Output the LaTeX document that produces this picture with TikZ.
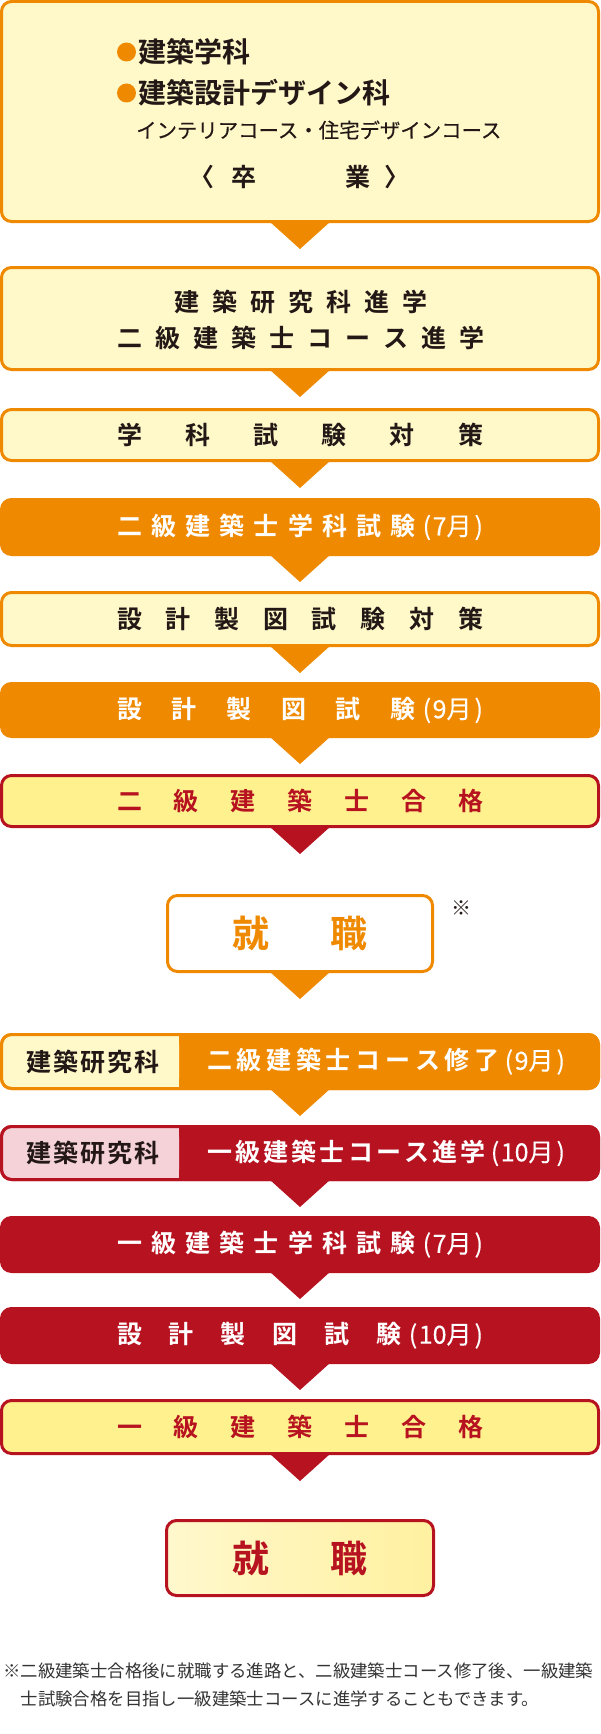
\documentclass[tikz,border=0pt]{standalone}
\usepackage{fontspec}
\setmainfont{Noto Sans CJK JP}[BoldFont={* Bold}]
\newfontfamily\jpm{Noto Sans CJK JP}[FakeBold=0.3]
\usetikzlibrary{calc}
\definecolor{orC}{RGB}{239,138,0}
\definecolor{ltY}{RGB}{255,249,202}
\definecolor{rdC}{RGB}{183,18,32}
\definecolor{psY}{RGB}{255,242,142}
\definecolor{pkC}{RGB}{244,210,216}
\definecolor{dkC}{RGB}{35,24,21}
\definecolor{ftC}{RGB}{51,51,51}
\definecolor{jA}{RGB}{255,248,205}
\definecolor{jB}{RGB}{255,241,160}
\newcommand{\downtri}[2]{\fill[#2] ($(#1.south)+(-30.5,0)$) -- ($(#1.south)+(30.5,0)$) -- ($(#1.south)+(0,27.5)$) -- cycle;}
\newcommand{\hf}{\hfill{}}
\newcommand{\mon}[1]{{\mdseries\jpm(\kern1.5pt#1\kern3pt)}}
\tikzset{
  bx/.style={rectangle, rounded corners=10pt, line width=3pt, minimum width=597pt, inner sep=0pt, outer sep=0pt},
  lt/.style={bx, draw=orC, fill=ltY},
  of/.style={bx, draw=orC, fill=orC},
  rf/.style={bx, draw=rdC, fill=rdC},
  pass/.style={bx, draw=rdC, fill=psY},
  txt/.style={inner sep=0pt, font={\bfseries\fontsize{25}{25}\selectfont}},
  big/.style={inner sep=0pt, font={\bfseries\fontsize{37}{37}\selectfont}},
  lead/.style={anchor=west, inner sep=0pt, text=dkC, font={\bfseries\fontsize{28}{28}\selectfont}},
  note/.style={anchor=west, inner sep=0pt, text=ftC, font={\fontsize{17.4}{17.4}\selectfont}},
}
\begin{document}
\begin{tikzpicture}[x=1pt,y=-1pt]
\useasboundingbox (0,0) rectangle (600,1734);
% boxes
\node[lt, minimum height=220pt] (b1) at (300,111.5) {};
\node[lt, minimum height=102pt] (b2) at (300,318.5) {};
\node[lt, minimum height=51pt] (b3) at (300,435) {};
\node[of, minimum height=55pt] (b4) at (300,527) {};
\node[lt, minimum height=53pt] (b5) at (300,619) {};
\node[of, minimum height=53pt] (b6) at (300,710) {};
\node[pass, minimum height=51pt] (b7) at (300,801) {};
\node[bx, draw=orC, fill=white, minimum width=265pt, minimum height=76pt] (j1) at (300,933.5) {};
\node[of, minimum height=54pt] (b9) at (300,1061.5) {};
\node[rf, minimum height=53pt] (b10) at (300,1153) {};
\node[rf, minimum height=54pt] (b11) at (300,1244.5) {};
\node[rf, minimum height=54pt] (b12) at (300,1335.5) {};
\node[pass, minimum height=53pt] (b13) at (300,1427) {};
\node[bx, draw=rdC, left color=jA, right color=jB, minimum width=267pt, minimum height=75pt] (j2) at (300,1558) {};
% split label parts
\fill[ltY, rounded corners=8.5pt] (3,1036) rectangle (179,1087);
\fill[ltY] (160,1036) rectangle (179,1087);
\draw[orC, line width=3pt, rounded corners=10pt] (b9.north west) rectangle (b9.south east);
\fill[pkC, rounded corners=8.5pt] (3,1128) rectangle (179,1178);
\fill[pkC] (160,1128) rectangle (179,1178);
\draw[rdC, line width=3pt, rounded corners=10pt] (b10.north west) rectangle (b10.south east);
% triangles
\downtri{b1}{orC}
\downtri{b2}{orC}
\downtri{b3}{orC}
\downtri{b4}{orC}
\downtri{b5}{orC}
\downtri{b6}{orC}
\downtri{b7}{rdC}
\downtri{j1}{orC}
\downtri{b9}{orC}
\downtri{b10}{rdC}
\downtri{b11}{rdC}
\downtri{b12}{rdC}
\downtri{b13}{rdC}
% box 1 texts
\node[circle, fill=orC, minimum size=19pt, inner sep=0pt] (d1) at (126.5,52) {};
\node[lead] (l1) at (138,52) {建築学科};
\node[circle, fill=orC, minimum size=19pt, inner sep=0pt] (d2) at (126.5,93) {};
\node[lead] (l2) at (138,93) {建築設計デザイン科};
\node[anchor=west, inner sep=0pt, text=dkC, font={\jpm\fontsize{20.4}{20.4}\selectfont}] (l3) at (136,130) {インテリアコース・住宅デザインコース};
\node[txt, text=dkC] (g1) at (202,177) {〈};
\node[txt, text=dkC] (g2) at (243.5,177) {卒};
\node[txt, text=dkC] (g3) at (357.5,177) {業};
\node[txt, text=dkC] (g4) at (397,177) {〉};
% box 2
\node[txt, text=dkC] (t2a) at (300.5,302) {\hbox to 253pt{建\hf 築\hf 研\hf 究\hf 科\hf 進\hf 学}};
\node[txt, text=dkC] (t2b) at (300.5,338) {\hbox to 367pt{二\hf 級\hf 建\hf 築\hf 士\hf コ\hf ー\hf ス\hf 進\hf 学}};
% others
\node[txt, text=dkC] (t3) at (b3) {\hbox to 366pt{学\hf 科\hf 試\hf 験\hf 対\hf 策}};
\node[txt, text=white] (t4) at (b4) {\hbox to 366pt{二\hf 級\hf 建\hf 築\hf 士\hf 学\hf 科\hf 試\hf 験\hspace{7pt}\mon{7月}}};
\node[txt, text=dkC] (t5) at (b5) {\hbox to 366pt{設\hf 計\hf 製\hf 図\hf 試\hf 験\hf 対\hf 策}};
\node[txt, text=white] (t6) at (b6) {\hbox to 366pt{設\hf 計\hf 製\hf 図\hf 試\hf 験\hspace{7pt}\mon{9月}}};
\node[txt, text=rdC] (t7) at (b7) {\hbox to 366pt{二\hf 級\hf 建\hf 築\hf 士\hf 合\hf 格}};
\node[big, text=orC] (tj1) at (j1) {\hbox to 135pt{就\hf 職}};
\node[inner sep=0pt, text=dkC, font={\fontsize{20}{20}\selectfont}] (ast) at (461,908) {※};
\node[txt, text=dkC] (t9a) at (92.5,1061.5) {\hbox to 133pt{建\hf 築\hf 研\hf 究\hf 科}};
\node[txt, text=white] (t9b) at (386,1061.5) {\hbox to 358pt{二\hf 級\hf 建\hf 築\hf 士\hf コ\hf ー\hf ス\hf 修\hf 了\hspace{5pt}\mon{9月}}};
\node[txt, text=dkC] (t10a) at (92.5,1153) {\hbox to 133pt{建\hf 築\hf 研\hf 究\hf 科}};
\node[txt, text=white] (t10b) at (386,1153) {\hbox to 358pt{一\hf 級\hf 建\hf 築\hf 士\hf コ\hf ー\hf ス\hf 進\hf 学\hspace{5pt}\mon{10月}}};
\node[txt, text=white] (t11) at (b11) {\hbox to 366pt{一\hf 級\hf 建\hf 築\hf 士\hf 学\hf 科\hf 試\hf 験\hspace{7pt}\mon{7月}}};
\node[txt, text=white] (t12) at (b12) {\hbox to 366pt{設\hf 計\hf 製\hf 図\hf 試\hf 験\hspace{7pt}\mon{10月}}};
\node[txt, text=rdC] (t13) at (b13) {\hbox to 366pt{一\hf 級\hf 建\hf 築\hf 士\hf 合\hf 格}};
\node[big, text=rdC] (tj2) at (j2) {\hbox to 135pt{就\hf 職}};
% footnote
\node[note] (f1) at (3,1671) {※二級建築士合格後に就職する進路と、二級建築士コース修了後、一級建築};
\node[note] (f2) at (20.5,1699) {士試験合格を目指し一級建築士コースに進学することもできます。};
\end{tikzpicture}
\end{document}
